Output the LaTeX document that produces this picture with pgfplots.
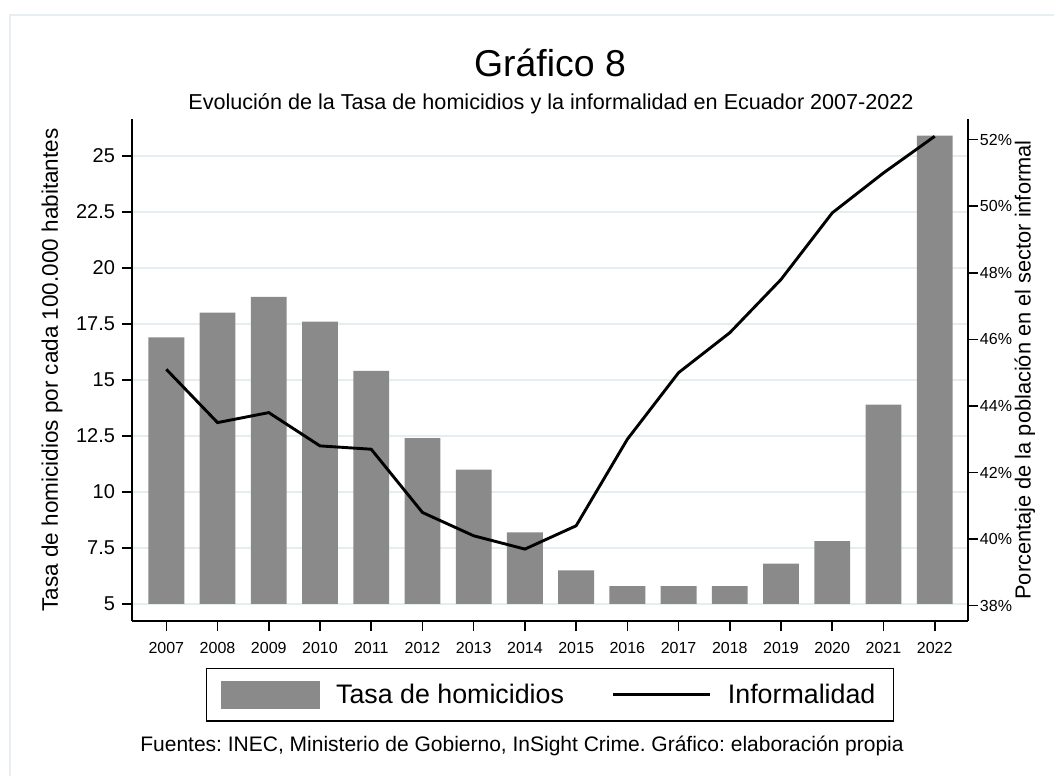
\documentclass[border=0pt]{standalone}
\usepackage{pgfplots}
\pgfplotsset{compat=1.18}
\usepackage{pgfplotstable}
\usepackage{fontspec}
\setmainfont{Liberation Sans}
\frenchspacing

\definecolor{bargray}{RGB}{138,138,138}
\definecolor{gridc}{RGB}{228,238,241}
\definecolor{framec}{RGB}{230,238,241}

% tasa de homicidios por cada 100.000 habitantes
\pgfplotstableread{
year rate
2007 16.9
2008 18.0
2009 18.7
2010 17.6
2011 15.4
2012 12.4
2013 11.0
2014 8.2
2015 6.5
2016 5.8
2017 5.8
2018 5.8
2019 6.8
2020 7.8
2021 13.9
2022 25.9
}\homicidios

% porcentaje de la poblacion en el sector informal
\pgfplotstableread{
year inf
2007 45.1
2008 43.5
2009 43.8
2010 42.8
2011 42.7
2012 40.8
2013 40.1
2014 39.7
2015 40.4
2016 43.0
2017 45.0
2018 46.2
2019 47.8
2020 49.8
2021 51.0
2022 52.1
}\informal

\pgfplotsset{
  base/.style={
    scale only axis, width=418pt, anchor=south west,
    xmin=2006.33, xmax=2022.65,
    /pgf/number format/assume math mode=true,
    /pgf/number format/1000 sep={},
    axis line style={-, line width=0.8pt, black},
    tick align=outside, major tick length=5pt,
    tick style={black, line width=0.8pt},
  },
}

\begin{document}
\begin{tikzpicture}
\useasboundingbox (0,0) rectangle (527pt,388pt);
\draw[framec, line width=1.2pt] (5pt,0pt) -- (5pt,380.5pt) -- (527pt,380.5pt);

% frame: left axis, grid, years
\begin{axis}[base, at={(66pt,77.5pt)}, height=251pt,
  ymin=4.24, ymax=26.64,
  axis x line*=bottom, axis y line*=left,
  xtick={2007,2008,...,2022},
  ytick={5,7.5,10,12.5,15,17.5,20,22.5,25},
  ymajorgrids, grid style={gridc, line width=0.9pt},
  xticklabel style={font=\fontsize{8}{9}\selectfont, yshift=-2pt},
  yticklabel style={font=\fontsize{10}{12}\selectfont},
  ylabel={Tasa de homicidios por cada 100.000 habitantes},
  ylabel style={font=\fontsize{11.25}{13}\selectfont, at={(axis description cs:-0.0957,0.5)}, anchor=center},
]
\end{axis}

% bars, drawn from 5
\begin{axis}[base, at={(66pt,86pt)}, height=242.5pt,
  ymin=5, ymax=26.64, hide axis]
\addplot[ybar, bar width=0.7, fill=bargray, draw=none] table[x=year, y=rate] {\homicidios};
\end{axis}

% right axis: informalidad
\begin{axis}[base, at={(66pt,77.5pt)}, height=251pt,
  ymin=37.54, ymax=52.62,
  axis x line=none, axis y line*=right,
  ytick={38,40,...,52},
  yticklabel={\pgfmathprintnumber{\tick}\%},
  yticklabel style={font=\fontsize{8}{9}\selectfont, inner xsep=0.8pt},
  ylabel={Porcentaje de la población en el sector informal},
  ylabel style={font=\fontsize{10.9}{13}\selectfont, at={(axis description cs:1.068,0.5)}, anchor=center, rotate=0},
  legend columns=2,
  legend style={at={(0.5,-0.0936)}, anchor=north, draw=black, line width=0.75pt,
    font=\fontsize{13.4}{15}\selectfont, inner xsep=7pt, inner ysep=5.5pt,
    /tikz/every even column/.append style={column sep=22pt},
    /tikz/every odd column/.append style={column sep=6pt}},
]
\addlegendimage{legend image code/.code={\fill[bargray] (0pt,-6.75pt) rectangle (49pt,6.75pt);}}
\addlegendentry{Tasa de homicidios}
\addplot[black, line width=1.45pt,
  legend image code/.code={\draw[black, line width=1.45pt] (0pt,0pt) -- (48.5pt,0pt);}]
  table[x=year, y=inf] {\informal};
\addlegendentry{Informalidad}
\end{axis}

\node[anchor=base, font=\fontsize{18.7}{22}\selectfont] at (275pt,349.5pt) {Gráfico 8};
\node[anchor=base, font=\fontsize{10.8}{12}\selectfont] at (275.5pt,333pt) {Evolución de la Tasa de homicidios y la informalidad en Ecuador 2007-2022};
\node[anchor=base, font=\fontsize{10.5}{12}\selectfont] at (261pt,12.5pt) {Fuentes: INEC, Ministerio de Gobierno, InSight Crime. Gráfico: elaboración propia};
\end{tikzpicture}
\end{document}
